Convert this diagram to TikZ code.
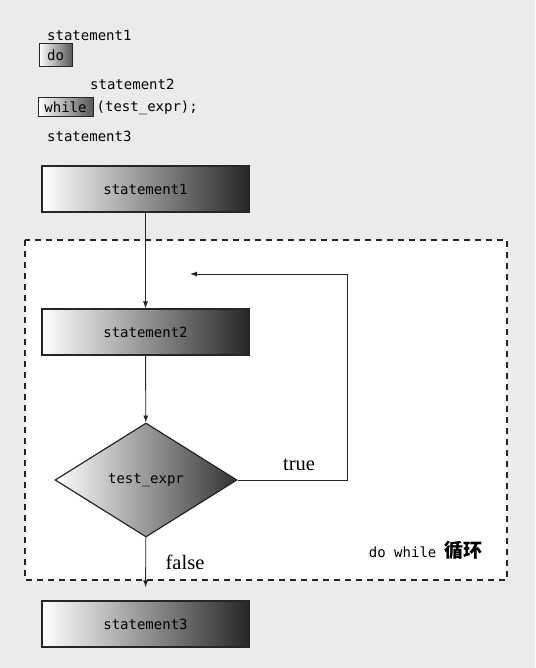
\documentclass[tikz,border=0pt]{standalone}
\usepackage{fontspec}
\setmainfont{Liberation Serif}
\setmonofont{DejaVu Sans Mono}
\newfontfamily\cjk{Noto Sans CJK SC}
\usetikzlibrary{arrows.meta,positioning,shapes.geometric}

\begin{document}
\begin{tikzpicture}[x=1pt,y=-1pt,>={Latex[length=7pt,width=5pt]},
  code/.style={font=\ttfamily\fontsize{14}{16}\selectfont,inner sep=0pt},
  keybox/.style={code,draw=black!85,line width=1pt,left color=white,right color=black!65,inner xsep=5pt},
  stmtbox/.style={code,draw=black!85,line width=1.2pt,left color=white,right color=black!85,minimum width=207pt,minimum height=46pt},
  testbox/.style={code,diamond,draw=black!85,line width=1.2pt,left color=white,right color=black!80,minimum width=182pt,minimum height=114pt,aspect=1.6},
  flow/.style={->,black!85,line width=0.9pt},
  label/.style={font=\fontsize{20.5}{22}\selectfont,inner sep=0pt}]
  \useasboundingbox (0,0) rectangle (535,668);
  \fill[black!8] (0,0) rectangle (535,668);
  % the loop frame
  \draw[black!85,line width=1.3pt,dash pattern=on 6pt off 5pt,fill=white] (25,240) rectangle (507,580);

  % source lines
  \node (c1) [code,anchor=west] at (47,35) {statement1};
  \node (kdo) [keybox,minimum width=33pt,minimum height=23pt] at (55.5,55.5) {do};
  \node (c2) [code,anchor=west] at (90,84) {statement2};
  \node (kwhile) [keybox,minimum width=55pt,minimum height=19pt] at (65.5,107.5) {while};
  \node (c3) [code,anchor=west,right=3pt of kwhile] {(test\_expr);};
  \node (c4) [code,anchor=west] at (47,136) {statement3};

  % flow chart
  \node (s1) [stmtbox] at (145.5,189) {statement1};
  \node (s2) [stmtbox] at (145.5,332) {statement2};
  \node (test) [testbox] at (146,480) {test\_expr};
  \node (s3) [stmtbox] at (145.5,624) {statement3};
  \coordinate (tr) at (347,480);
  \coordinate (tl) at (347,274);
  \coordinate (back) at (190,274);

  \draw[flow] (s1) -- (s2);
  \draw[flow] (s2) -- (test);
  \draw[flow] (test.east) -- (tr) -- (tl) -- (back);
  \draw[flow,shorten >=13pt] (test) -- (s3);

  \node (true) [label] at (299,465) {true};
  \node (false) [label] at (185,562) {false};
  \node (name) [code,anchor=east] at (483,550) {do while {\cjk\bfseries\fontsize{19}{20}\selectfont 循环}};
\end{tikzpicture}
\end{document}
